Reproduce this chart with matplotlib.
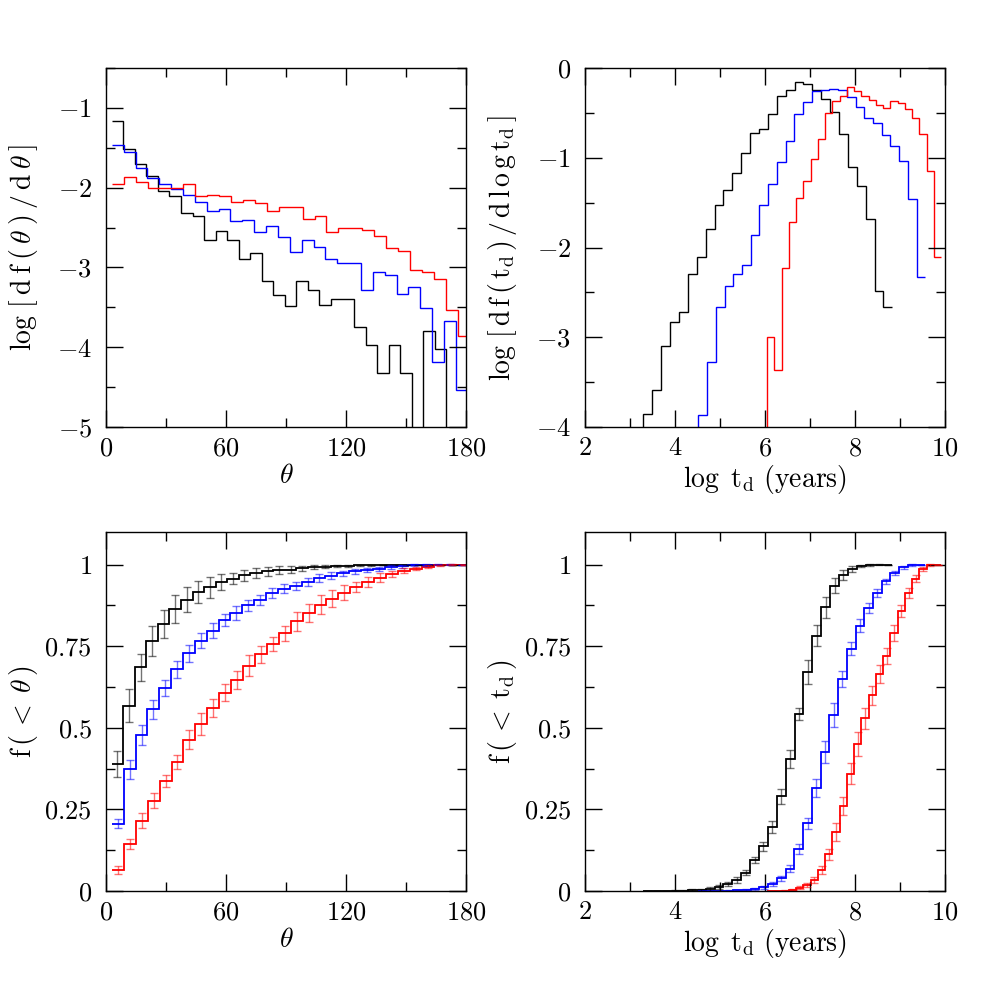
import numpy as np
import matplotlib
matplotlib.use('Agg')
import matplotlib.pyplot as plt
from matplotlib.ticker import MultipleLocator, FuncFormatter

plt.rcParams['font.family'] = 'serif'
plt.rcParams['font.serif'] = ['cmr10', 'DejaVu Serif']
plt.rcParams['mathtext.fontset'] = 'cm'
plt.rcParams['axes.unicode_minus'] = True

EMPTY = -9.0  # bins with no objects (log of zero), drawn below the axis

# --- theta histograms: 30 bins of width (max theta)/30, centres at k*w ---
theta_w_black = 5.77
theta_w_blue = 5.93
theta_w_red = 5.96

logdf_theta_black = [-1.17, -1.51, -1.70, -1.85, -2.04, -2.11, -2.32, -2.35, -2.65, -2.54,
                     -2.65, -2.89, -2.82, -3.17, -3.34, -3.48, -3.17, -3.28, -3.47, -3.39,
                     -3.39, -3.75, -3.97, -4.32, -3.97, -4.32, EMPTY, -3.80, -4.02, EMPTY]
logdf_theta_blue = [-1.46, -1.55, -1.75, -1.88, -1.95, -2.02, -2.09, -2.18, -2.29, -2.27,
                    -2.42, -2.41, -2.55, -2.48, -2.62, -2.81, -2.66, -2.74, -2.90, -2.94,
                    -2.95, -3.28, -3.06, -3.10, -3.33, -3.24, -3.51, -4.18, -3.67, -4.54]
logdf_theta_red = [-1.96, -1.87, -1.93, -2.00, -2.00, -2.00, -1.95, -2.10, -2.09, -2.11,
                   -2.18, -2.16, -2.19, -2.29, -2.24, -2.24, -2.39, -2.35, -2.55, -2.51,
                   -2.51, -2.53, -2.60, -2.76, -2.79, -3.03, -3.06, -3.15, -3.53, -3.86]

cum_theta_black = [0.388, 0.568, 0.686, 0.766, 0.819, 0.864, 0.893, 0.916, 0.930, 0.946,
                   0.957, 0.967, 0.975, 0.980, 0.983, 0.985, 0.989, 0.992, 0.994, 0.996,
                   0.997, 0.998, 0.998, 0.999, 0.999, 0.999, 0.999, 1.0, 1.0, 1.0]
err_theta_black = [0.040, 0.051, 0.041, 0.045, 0.043, 0.042, 0.037, 0.034, 0.033, 0.025,
                   0.017, 0.016, 0.015, 0.014, 0.012, 0.011, 0.008, 0.006, 0.005, 0.004,
                   0.003, 0.002, 0.002, 0.001, 0.001, 0.001, 0.0, 0.0, 0.0, 0.0]
cum_theta_blue = [0.206, 0.373, 0.479, 0.557, 0.623, 0.680, 0.728, 0.767, 0.798, 0.830,
                  0.852, 0.875, 0.892, 0.912, 0.926, 0.935, 0.948, 0.959, 0.966, 0.973,
                  0.980, 0.983, 0.988, 0.993, 0.995, 0.999, 0.999, 1.0, 1.0, 1.0]
err_theta_blue = [0.014, 0.030, 0.031, 0.029, 0.024, 0.026, 0.025, 0.023, 0.023, 0.019,
                  0.022, 0.018, 0.016, 0.015, 0.014, 0.013, 0.012, 0.011, 0.010, 0.009,
                  0.008, 0.007, 0.006, 0.005, 0.004, 0.003, 0.002, 0.001, 0.001, 0.0]
cum_theta_red = [0.064, 0.145, 0.215, 0.277, 0.337, 0.396, 0.463, 0.512, 0.561, 0.607,
                 0.646, 0.690, 0.725, 0.757, 0.790, 0.826, 0.851, 0.877, 0.895, 0.914,
                 0.931, 0.947, 0.960, 0.972, 0.982, 0.988, 0.994, 0.998, 1.0, 1.0]
err_theta_red = [0.013, 0.015, 0.023, 0.022, 0.018, 0.022, 0.029, 0.034, 0.028, 0.026,
                 0.027, 0.032, 0.027, 0.022, 0.023, 0.028, 0.028, 0.029, 0.026, 0.023,
                 0.016, 0.016, 0.013, 0.010, 0.007, 0.005, 0.004, 0.002, 0.001, 0.0]

# --- log t_d histograms: first edge and bin width (dex) per sample ---
td_start_black, td_w_black = 3.30, 0.1975
td_start_blue, td_w_blue = 4.52, 0.194
td_start_red, td_w_red = 6.05, 0.161

logdf_td_black = [-3.86, -3.59, -3.10, -2.83, -2.72, -2.30, -2.11, -1.79, -1.53, -1.36,
                  -1.17, -0.95, -0.72, -0.68, -0.51, -0.31, -0.25, -0.16, -0.18, -0.25,
                  -0.35, -0.49, -0.74, -1.10, -1.31, -1.68, -2.48, -2.66]
logdf_td_blue = [-3.87, -3.28, -2.66, -2.43, -2.29, -2.20, -1.86, -1.53, -1.29, -1.05,
                 -0.81, -0.51, -0.38, -0.26, -0.24, -0.23, -0.25, -0.32, -0.44, -0.56,
                 -0.61, -0.75, -0.87, -1.04, -1.46, -2.33]
logdf_td_red = [-3.00, -3.36, -2.23, -1.72, -1.45, -1.26, -1.01, -0.79, -0.50, -0.37,
                -0.31, -0.21, -0.26, -0.31, -0.36, -0.41, -0.45, -0.37, -0.39, -0.46,
                -0.56, -0.74, -1.15, -2.11]

cum_td_black = [0.00003, 0.0001, 0.0003, 0.0006, 0.0010, 0.0020, 0.0034, 0.0066, 0.0124, 0.021,
                0.034, 0.056, 0.095, 0.137, 0.196, 0.290, 0.404, 0.543, 0.670, 0.782,
                0.869, 0.935, 0.968, 0.986, 0.996, 0.999, 1.0, 1.0]
err_td_black = [0.0, 0.0005, 0.001, 0.0015, 0.002, 0.003, 0.004, 0.005, 0.006, 0.007,
                0.008, 0.008, 0.010, 0.014, 0.019, 0.022, 0.027, 0.019, 0.037, 0.032,
                0.033, 0.023, 0.015, 0.010, 0.004, 0.002, 0.001, 0.0]
cum_td_blue = [0.00003, 0.0001, 0.0005, 0.0013, 0.0023, 0.0035, 0.0062, 0.0119, 0.0217, 0.039,
               0.069, 0.129, 0.208, 0.315, 0.425, 0.540, 0.650, 0.743, 0.813, 0.867,
               0.914, 0.949, 0.975, 0.992, 0.999, 1.0]
err_td_blue = [0.0, 0.0003, 0.001, 0.0015, 0.002, 0.003, 0.004, 0.005, 0.006, 0.007,
               0.010, 0.014, 0.017, 0.027, 0.034, 0.036, 0.025, 0.020, 0.019, 0.016,
               0.012, 0.008, 0.006, 0.004, 0.002, 0.0]
cum_td_red = [0.0002, 0.0002, 0.0012, 0.0043, 0.0100, 0.0189, 0.0347, 0.065, 0.112, 0.181,
              0.260, 0.360, 0.451, 0.529, 0.600, 0.664, 0.721, 0.790, 0.858, 0.913,
              0.957, 0.988, 0.999, 1.0]
err_td_red = [0.0003, 0.0003, 0.001, 0.002, 0.004, 0.006, 0.009, 0.013, 0.018, 0.028,
              0.027, 0.032, 0.037, 0.032, 0.029, 0.027, 0.025, 0.025, 0.019, 0.016,
              0.010, 0.006, 0.002, 0.0]

colors = ['black', 'blue', 'red']
FS = 19
LFS = 20


def theta_edges(w, n):
    return w * (np.arange(n + 1) + 0.5)


def td_edges(start, w, n, lead_empty=True):
    # one empty bin in front so the histogram rises from the bottom axis
    if lead_empty:
        return start + w * np.arange(-1, n + 1)
    return start + w * np.arange(n + 1)


def fmt(v, pos):
    return r'$%g$' % v


def style(ax, xmaj, xmin, ymaj, ymin):
    ax.xaxis.set_major_locator(MultipleLocator(xmaj))
    ax.xaxis.set_minor_locator(MultipleLocator(xmin))
    ax.yaxis.set_major_locator(MultipleLocator(ymaj))
    ax.yaxis.set_minor_locator(MultipleLocator(ymin))
    ax.xaxis.set_major_formatter(FuncFormatter(fmt))
    ax.yaxis.set_major_formatter(FuncFormatter(fmt))
    ax.tick_params(which='both', direction='in', top=True, right=True, width=1.0,
                   labelsize=FS)
    ax.tick_params(which='major', length=12)
    ax.tick_params(which='minor', length=6.5)
    ax.tick_params(axis='x', which='major', pad=7)
    ax.tick_params(axis='y', which='major', pad=10)
    for s in ax.spines.values():
        s.set_linewidth(1.0)


fig = plt.figure(figsize=(9.81, 9.81), dpi=100)
ax1 = fig.add_axes([0.108, 0.5647, 0.367, 0.366])
ax2 = fig.add_axes([0.5963, 0.5647, 0.367, 0.366])
ax3 = fig.add_axes([0.108, 0.0917, 0.367, 0.366])
ax4 = fig.add_axes([0.5963, 0.0917, 0.367, 0.366])

# top left: log df/dtheta
for vals, w, c in zip([logdf_theta_black, logdf_theta_blue, logdf_theta_red],
                      [theta_w_black, theta_w_blue, theta_w_red], colors):
    ax1.stairs(vals, theta_edges(w, len(vals)), baseline=None, color=c, lw=1.0)
ax1.set_xlim(0, 180)
ax1.set_ylim(-5, -0.5)
style(ax1, 60, 30, 1, 0.5)
ax1.set_xlabel(r'$\theta$', fontsize=LFS)
ax1.set_ylabel(r'$\log\,[\:{\rm d\:f}\:(\:\theta\:)\:/\:{\rm d}\:\theta\:]$', fontsize=LFS)

# top right: log df/dlog t_d
for vals, (st, w), c in zip([logdf_td_black, logdf_td_blue, logdf_td_red],
                            [(td_start_black, td_w_black), (td_start_blue, td_w_blue),
                             (td_start_red, td_w_red)], colors):
    ax2.stairs([EMPTY] + vals, td_edges(st, w, len(vals)), baseline=None, color=c, lw=1.0)
ax2.set_xlim(2, 10)
ax2.set_ylim(-4, 0)
style(ax2, 2, 1, 1, 0.5)
ax2.set_xlabel(r'$\log\ {\rm t_d\ (years)}$', fontsize=LFS)
ax2.set_ylabel(r'$\log\,[\,{\rm d\,f\,(\,t_d\,)\,/\,d\,l\,o\,g\,t_d}\,]$', fontsize=LFS)

# bottom left: cumulative theta
for cum, err, w, c in zip([cum_theta_black, cum_theta_blue, cum_theta_red],
                          [err_theta_black, err_theta_blue, err_theta_red],
                          [theta_w_black, theta_w_blue, theta_w_red], colors):
    e = theta_edges(w, len(cum))
    ax3.stairs(cum, e, baseline=None, color=c, lw=1.3)
    ax3.errorbar(0.5 * (e[:-1] + e[1:]), cum, yerr=err, fmt='none', ecolor=c,
                 elinewidth=1.0, capsize=3.2, capthick=1.0, alpha=0.55)
ax3.set_xlim(0, 180)
ax3.set_ylim(0, 1.1)
style(ax3, 60, 30, 0.25, 0.125)
ax3.set_xlabel(r'$\theta$', fontsize=LFS)
ax3.set_ylabel(r'${\rm f}\,(\,<\;\theta\,)$', fontsize=LFS)

# bottom right: cumulative t_d
for cum, err, (st, w), c in zip([cum_td_black, cum_td_blue, cum_td_red],
                                [err_td_black, err_td_blue, err_td_red],
                                [(td_start_black, td_w_black), (td_start_blue, td_w_blue),
                                 (td_start_red, td_w_red)], colors):
    e = td_edges(st, w, len(cum), lead_empty=False)
    ax4.stairs(cum, e, baseline=None, color=c, lw=1.3)
    ax4.errorbar(0.5 * (e[:-1] + e[1:]), cum, yerr=err, fmt='none', ecolor=c,
                 elinewidth=1.0, capsize=3.2, capthick=1.0, alpha=0.55)
ax4.set_xlim(2, 10)
ax4.set_ylim(0, 1.1)
style(ax4, 2, 1, 0.25, 0.125)
ax4.set_xlabel(r'$\log\ {\rm t_d\ (years)}$', fontsize=LFS)
ax4.set_ylabel(r'${\rm f}\,(\,<\;{\rm t_d}\,)$', fontsize=LFS)

for ax in (ax1, ax2, ax3, ax4):
    ax.xaxis.set_label_coords(0.5, -0.1)
    ax.yaxis.set_label_coords(-0.183, 0.5)

fig.savefig('out.png', dpi=100)
